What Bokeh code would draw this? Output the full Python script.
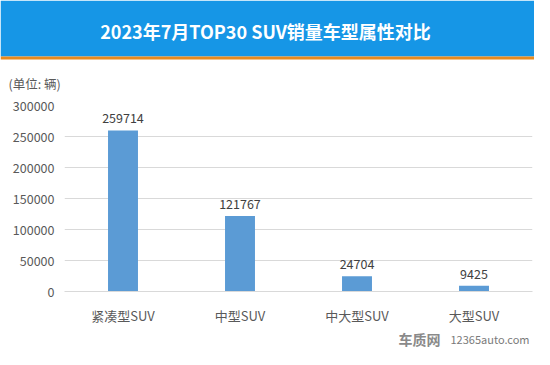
from bokeh.plotting import figure
from bokeh.layouts import column
from bokeh.models import (ColumnDataSource, Label, LabelSet, BoxAnnotation,
                          FixedTicker, FactorRange, Range1d, NumeralTickFormatter)
from bokeh.core.properties import value
from bokeh.embed import file_html
from bokeh.resources import INLINE

categories = ["紧凑型SUV", "中型SUV", "中大型SUV", "大型SUV"]
values = [259714, 121767, 24704, 9425]
y_ticks = [0, 50000, 100000, 150000, 200000, 250000, 300000]
title_text = "2023年7月TOP30 SUV销量车型属性对比"
unit_text = "(单位: 辆)"
brand_text = "车质网"
site_text = "12365auto.com"

FONT = "Noto Sans CJK SC"
W = 534
HEAD_H, MAIN_H, FOOT_H = 95, 232, 22


def blank_fig(h):
    f = figure(width=W, height=h, x_range=Range1d(0, W), y_range=Range1d(0, h),
               x_axis_type=None, y_axis_type=None, output_backend="svg",
               toolbar_location=None, min_border=0, frame_align=False)
    f.grid.visible = False
    f.outline_line_color = None
    f.background_fill_color = "white"
    f.border_fill_color = "white"
    return f


# ---- header: title band + unit note
head = blank_fig(HEAD_H)
head.add_layout(BoxAnnotation(left=0, right=W, bottom=HEAD_H - 56, top=HEAD_H,
                              left_units="screen", right_units="screen",
                              bottom_units="screen", top_units="screen",
                              fill_color="#1696e6", fill_alpha=1, line_color=None))
head.add_layout(BoxAnnotation(left=0, right=W, bottom=HEAD_H - 59, top=HEAD_H - 56,
                              left_units="screen", right_units="screen",
                              bottom_units="screen", top_units="screen",
                              fill_color="#e88a1e", fill_alpha=1, line_color=None))
head.add_layout(Label(x=265, y=HEAD_H - 30, x_units="screen", y_units="screen",
                      text=title_text, text_align="center", text_baseline="middle",
                      text_font=FONT, text_font_size="18px", text_font_style="bold",
                      text_color="white"))
head.add_layout(Label(x=8, y=HEAD_H - 83, x_units="screen", y_units="screen",
                      text=unit_text, text_align="left", text_baseline="middle",
                      text_font=FONT, text_font_size="12.5px", text_color="#595959"))

# ---- main bar chart
src = ColumnDataSource(dict(cat=categories, val=values, lab=[str(v) for v in values]))
p = figure(width=W, height=MAIN_H, x_range=FactorRange(*categories),
           y_range=Range1d(0, 300000), output_backend="svg", toolbar_location=None,
           min_border_left=64, min_border_right=2, min_border_top=10, min_border_bottom=35,
           frame_align=False)
p.outline_line_color = None
p.background_fill_color = "white"
p.border_fill_color = "white"

p.vbar(x="cat", top="val", width=0.256, source=src, fill_color="#5b9bd5", line_color=None)
p.add_layout(LabelSet(x="cat", y="val", text="lab", source=src, y_offset=7,
                      text_align="center", text_baseline="bottom",
                      text_font=value(FONT), text_font_size="12.5px", text_color="#404040"))

p.xgrid.visible = False
p.ygrid.ticker = FixedTicker(ticks=y_ticks)
p.ygrid.grid_line_color = "#d9d9d9"

p.yaxis.ticker = FixedTicker(ticks=y_ticks)
p.yaxis.formatter = NumeralTickFormatter(format="0")
p.yaxis.axis_line_color = None
p.yaxis.major_tick_line_color = None
p.yaxis.minor_tick_line_color = None
p.yaxis.major_tick_out = 0
p.yaxis.major_tick_in = 0
p.yaxis.major_label_text_font = FONT
p.yaxis.major_label_text_font_size = "12.5px"
p.yaxis.major_label_text_color = "#595959"
p.yaxis.major_label_standoff = 10

p.xaxis.axis_line_color = "#d9d9d9"
p.xaxis.major_tick_line_color = None
p.xaxis.minor_tick_line_color = None
p.xaxis.major_tick_out = 0
p.xaxis.major_tick_in = 0
p.xaxis.major_label_text_font = FONT
p.xaxis.major_label_text_font_size = "13px"
p.xaxis.major_label_text_color = "#595959"
p.xaxis.major_label_standoff = 14

# ---- footer: watermark
foot = blank_fig(FOOT_H)
foot.add_layout(Label(x=398, y=FOOT_H / 2, x_units="screen", y_units="screen",
                      text=brand_text, text_align="left", text_baseline="middle",
                      text_font=FONT, text_font_size="14px", text_font_style="bold",
                      text_color="#8a8a8a"))
foot.add_layout(Label(x=450, y=FOOT_H / 2, x_units="screen", y_units="screen",
                      text=site_text, text_align="left", text_baseline="middle",
                      text_font=FONT, text_font_size="11px", text_color="#7a7a7a"))

layout = column(head, p, foot, spacing=0)
open("out.html", "w").write(file_html(layout, INLINE))
